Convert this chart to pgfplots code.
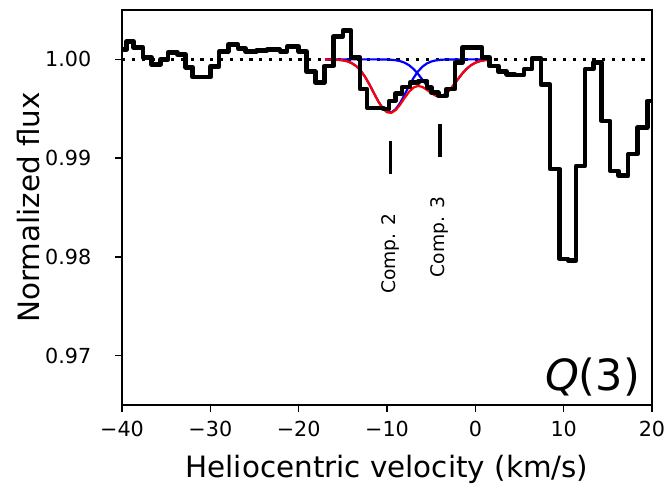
\documentclass[border=0pt]{standalone}
\usepackage{fontspec}
\setmainfont{DejaVu Sans}
\usepackage{pgfplots}
\pgfplotsset{compat=1.18}
\begin{document}
\begin{tikzpicture}
\begin{axis}[
  width=530bp, height=395bp, scale only axis,
  xmin=-40, xmax=20, ymin=0.965, ymax=1.005,
  axis line style={line width=1.5bp},
  tick style={line width=1.5bp, black},
  major tick length=6.5bp,
  tick align=outside,
  xtick pos=left, ytick pos=left,
  xtick={-40,-30,-20,-10,0,10,20},
  xticklabels={−40,−30,−20,−10,0,10,20},
  ytick={0.97,0.98,0.99,1.00},
  yticklabels={0.97,0.98,0.99,1.00},
  tick label style={font=\fontsize{20.7bp}{24bp}\selectfont},
  xticklabel style={inner sep=0pt, anchor=north, yshift=-9.5bp},
  yticklabel style={inner sep=0pt, anchor=east, xshift=-24bp},
  xlabel={Heliocentric velocity (km/s)},
  ylabel={Normalized flux},
  every axis x label/.style={at={(axis description cs:0.5,-0.127)}, anchor=north, inner sep=0pt, font=\fontsize{29.4bp}{35bp}\selectfont},
  every axis y label/.style={at={(axis description cs:-0.155,0.5)}, anchor=south, rotate=90, inner sep=0pt, font=\fontsize{29.4bp}{35bp}\selectfont},
]
% continuum
\addplot[black, line width=3.2bp, dash pattern=on 3.2bp off 6.6bp] coordinates {(-40,1.0) (20,1.0)};
% component 2 (blue)
\addplot[blue, line width=2.2bp, line join=round] coordinates {
(-17,0.999998) (-16.5,0.999993) (-16,0.999982) (-15.5,0.999958) (-15,0.999906)
(-14.5,0.999806) (-14,0.999625) (-13.5,0.999328) (-13,0.998878) (-12.5,0.998258)
(-12,0.997483) (-11.5,0.996616) (-11,0.995769) (-10.5,0.995076) (-10,0.994670)
(-9.5,0.994631) (-9,0.994969) (-8.5,0.995613) (-8,0.996441) (-7.5,0.997314)
(-7,0.998114) (-6.5,0.998768) (-6,0.999251) (-5.5,0.999576) (-5,0.999777)
(-4.5,0.999891) (-4,0.999950) (-3.5,0.999979) (-3,0.999992) (-2.5,0.999997)
(-2,1.0) (-1,1.0) (0,1.0) (1,1.0) (1.5,1.0)};
% component 3 (blue)
\addplot[blue, line width=2.2bp, line join=round] coordinates {
(-17,1.0) (-14,1.0) (-12,1.0) (-11,0.9999975) (-10.5,0.999993) (-10,0.999983)
(-9.5,0.999959) (-9,0.999911) (-8.5,0.999819) (-8,0.999659) (-7.5,0.999404)
(-7,0.999032) (-6.5,0.998542) (-6,0.997961) (-5.5,0.997354) (-5,0.996812)
(-4.5,0.996435) (-4,0.996300) (-3.5,0.996435) (-3,0.996812) (-2.5,0.997354)
(-2,0.997961) (-1.5,0.998542) (-1,0.999032) (-0.5,0.999404) (0,0.999659)
(0.5,0.999819) (1,0.999911) (1.5,0.999959)};
% total fit (red)
\addplot[red, line width=2.2bp, line join=round] coordinates {
(-17,0.999998) (-16.5,0.999993) (-16,0.999982) (-15.5,0.999958) (-15,0.999906)
(-14.5,0.999806) (-14,0.999625) (-13.5,0.999328) (-13,0.998878) (-12.5,0.998258)
(-12,0.997483) (-11.5,0.996616) (-11,0.995767) (-10.5,0.995069) (-10,0.994653)
(-9.5,0.994590) (-9,0.994880) (-8.5,0.995432) (-8,0.996100) (-7.5,0.996718)
(-7,0.997146) (-6.5,0.997310) (-6,0.997212) (-5.5,0.996930) (-5,0.996589)
(-4.5,0.996326) (-4,0.996250) (-3.5,0.996414) (-3,0.996804) (-2.5,0.997351)
(-2,0.997961) (-1.5,0.998542) (-1,0.999032) (-0.5,0.999404) (0,0.999659)
(0.5,0.999819) (1,0.999911) (1.5,0.999959)};
% spectrum
\addplot[black, line width=4.5bp, line join=round, const plot mark left] coordinates {
(-40,1.0010) (-39.5,1.0018) (-38.7,1.0012) (-37.62,1.0002) (-36.68,0.9995)
(-35.62,1.0000) (-34.79,1.0007) (-33.74,1.0005) (-32.8,0.9992) (-32.0,0.9982)
(-30.0,0.9993) (-29.0,1.0008) (-27.97,1.0015) (-26.84,1.0011) (-26.0,1.0008)
(-24.8,1.0009) (-23.6,1.0010) (-22.1,1.0008) (-21.3,1.0013) (-20.0,1.0008)
(-19.1,0.99875) (-18.1,0.99764) (-17.1,0.99933) (-16.08,1.0023) (-15.0,1.0029)
(-14.05,1.0002) (-13.05,0.9970) (-12.25,0.9951) (-10.4,0.99495) (-9.75,0.9958)
(-9.05,0.99655) (-8.3,0.9972) (-7.4,0.99764) (-6.45,0.9978) (-5.5,0.99714)
(-4.94,0.99663) (-4.19,0.9963) (-3.25,0.9970) (-2.3,0.99966) (-1.45,1.0012)
(0.75,1.0002) (1.62,0.99933) (2.6,0.99875) (3.55,0.99848) (4.5,0.9984)
(5.5,0.9990) (6.4,1.0001) (7.43,0.99747) (8.45,0.9889) (9.55,0.9798)
(10.5,0.97965) (11.4,0.9892) (12.4,0.9990) (13.36,0.9997) (14.3,0.99377)
(15.25,0.98872) (16.2,0.98822) (17.3,0.9904) (18.35,0.9931) (19.47,0.99579)
(20,0.99579)};
% component markers
\addplot[black, line width=3.3bp] coordinates {(-9.6,0.99175) (-9.6,0.98838)};
\addplot[black, line width=3.3bp] coordinates {(-4.0,0.99343) (-4.0,0.99007)};
\node[rotate=90, anchor=east, inner sep=0pt, font=\fontsize{18.7bp}{22bp}\selectfont] at (axis cs:-9.6,0.9844) {Comp. 2};
\node[rotate=90, anchor=east, inner sep=0pt, font=\fontsize{18.7bp}{22bp}\selectfont] at (axis cs:-4.0,0.9861) {Comp. 3};
\node[anchor=south east, inner sep=0pt, xshift=-12bp, yshift=9bp, font=\fontsize{43bp}{50bp}\selectfont] at (rel axis cs:1,0) {\textit{Q}(3)};
\end{axis}
\path (current axis.south west) ++(-122bp,-82bp) coordinate (bbA);
\path (current axis.north east) ++(16bp,10bp) coordinate (bbB);
\path (bbA) rectangle (bbB);
\end{tikzpicture}
\end{document}
